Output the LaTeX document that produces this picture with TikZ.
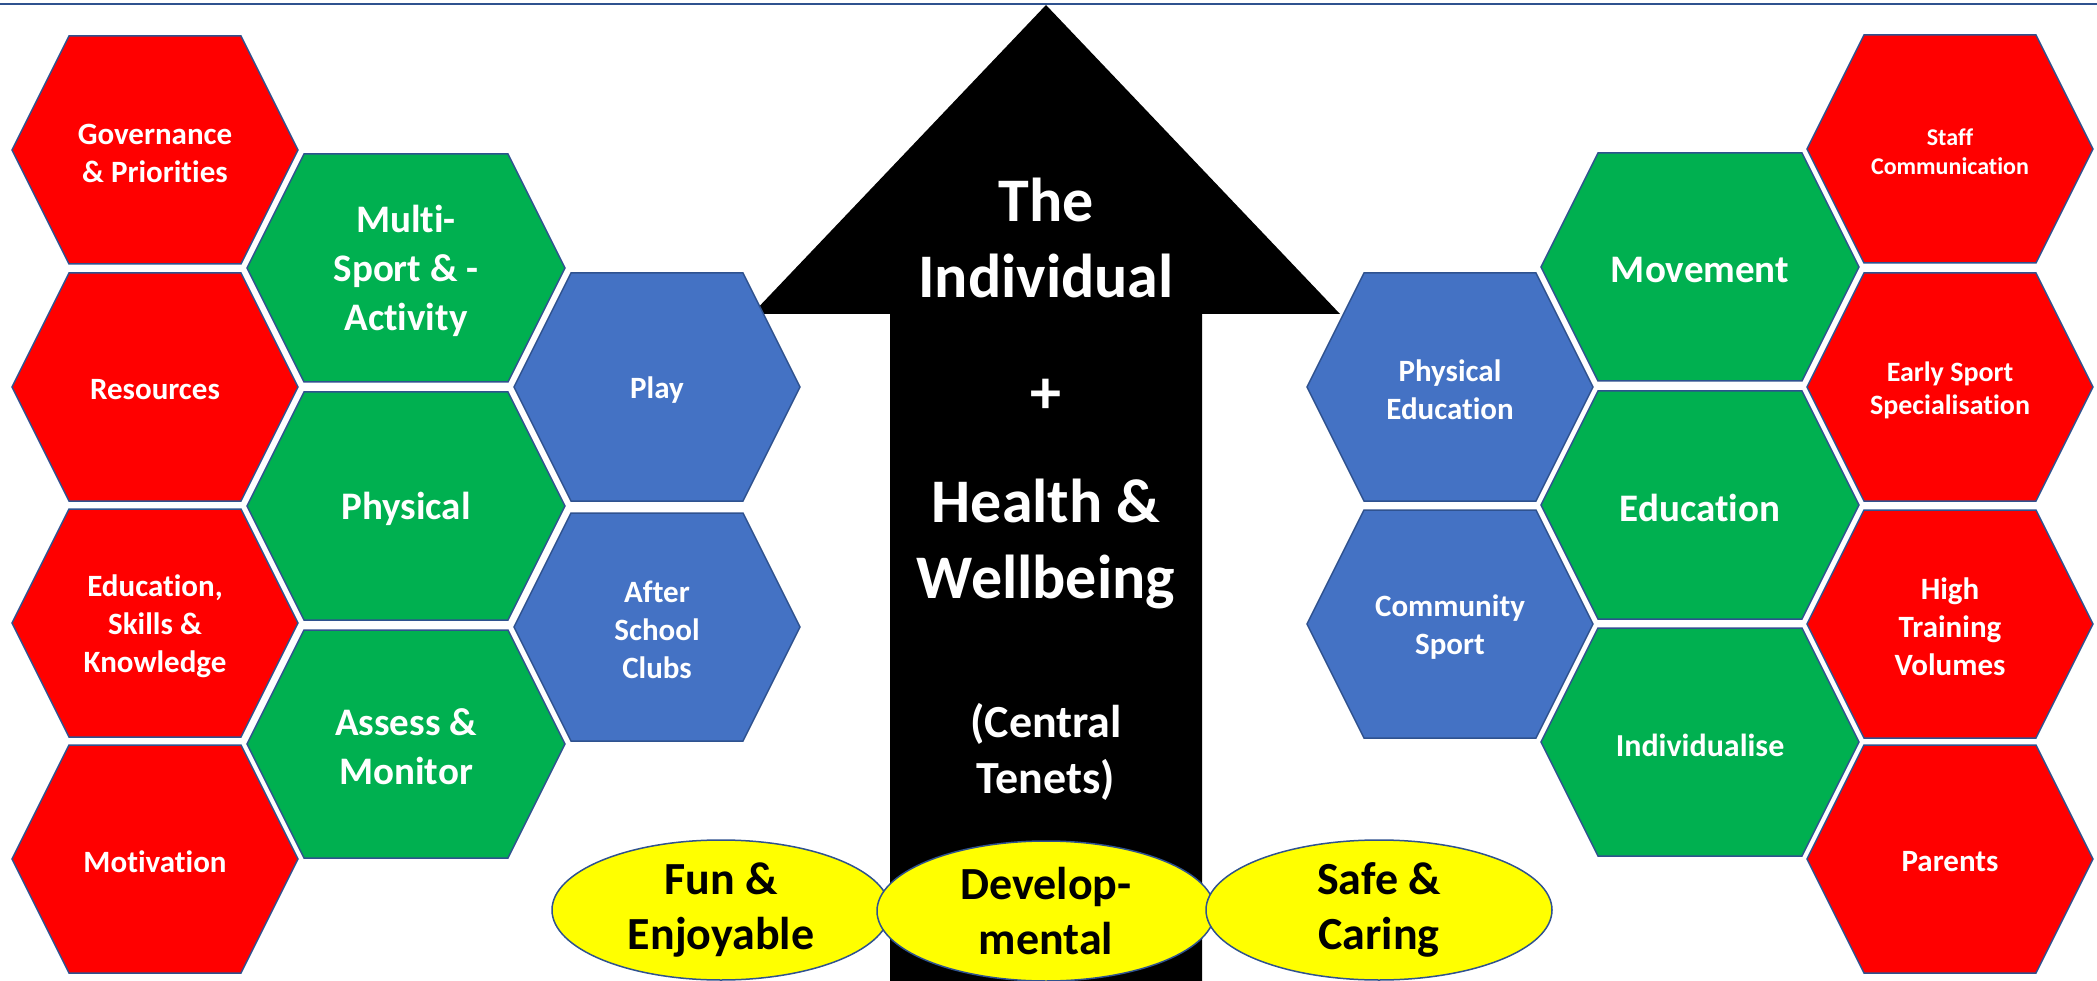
\documentclass[tikz,border=0pt]{standalone}
\usepackage{fontspec}
\setmainfont[Ligatures=NoCommon]{Carlito}
\usetikzlibrary{shapes.geometric}

\definecolor{hexred}{HTML}{FF0000}
\definecolor{hexgreen}{HTML}{00B050}
\definecolor{hexblue}{HTML}{4472C4}
\definecolor{hexline}{HTML}{2F528F}
\definecolor{pillfill}{HTML}{FFFF00}

% hexagon cell: name, x, y, half width, hex style, text style, text
\newcommand{\hexcell}[7]{%
  \draw[#5] ({#2-#4},#3) -- ++(57,-114) -- ++({2*#4-114},0) -- ++(57,114)
    -- ++(-57,114) -- ++({114-2*#4},0) -- cycle;
  \node[#6] (#1) at (#2,#3) {#7};
}

\begin{document}
\begin{tikzpicture}[x=1pt, y=-1pt,
    redhex/.style={fill=hexred, draw=hexline, line width=1.5pt},
    greenhex/.style={fill=hexgreen, draw=hexline, line width=1.5pt},
    bluehex/.style={fill=hexblue, draw=hexline, line width=1.5pt},
    cell/.style={text=white, align=center, inner sep=0pt, yshift=-3pt, font=\bfseries\fontsize{31}{38}\selectfont},
    bigcell/.style={cell, font=\bfseries\fontsize{39}{49}\selectfont},
    centretext/.style={text=white, inner sep=0pt, anchor=base, font=\bfseries\fontsize{62}{75}\selectfont},
    pill/.style={ellipse, fill=pillfill, draw=hexline, line width=1.5pt, inner sep=0pt,
      minimum width=338, minimum height=140, align=center, font=\bfseries\fontsize{46}{55}\selectfont}]
    \useasboundingbox (0,0) rectangle (2097,981);

    % central arrow
    \fill[black] (1046,5) -- (752,314) -- (890,314) -- (890,981) -- (1202,981)
      -- (1202,314) -- (1340,314) -- cycle;

    % left side
    \hexcell{gov}{155}{150}{143}{redhex}{cell}{Governance\\\& Priorities}
    \hexcell{res}{155}{387}{143}{redhex}{cell}{Resources}
    \hexcell{edu}{155}{623}{143}{redhex}{cell}{Education,\\Skills \&\\Knowledge}
    \hexcell{mot}{155}{859}{143}{redhex}{cell}{Motivation}
    \hexcell{multi}{406}{268}{159}{greenhex}{bigcell}{Multi-\\Sport \& -\\Activity}
    \hexcell{phys}{406}{506}{159}{greenhex}{bigcell}{Physical}
    \hexcell{assess}{406}{744}{159}{greenhex}{bigcell}{Assess \&\\Monitor}
    \hexcell{play}{657}{387}{143}{bluehex}{cell}{Play}
    \hexcell{after}{657}{627}{143}{bluehex}{cell}{After\\School\\Clubs}

    % right side
    \hexcell{pe}{1450}{387}{143}{bluehex}{cell}{Physical\\Education}
    \hexcell{comm}{1450}{624}{143}{bluehex}{cell}{Community\\Sport}
    \hexcell{move}{1700}{267}{159}{greenhex}{bigcell}{Movement}
    \hexcell{educ}{1700}{505}{159}{greenhex}{bigcell}{Education}
    \hexcell{indivise}{1700}{742}{159}{greenhex}{cell, font=\bfseries\fontsize{32}{38}\selectfont}{Individualise}
    \hexcell{staff}{1950}{149}{143}{redhex}{cell, font=\bfseries\fontsize{24}{29}\selectfont}{Staff\\Communication}
    \hexcell{early}{1950}{387}{143}{redhex}{cell, font=\bfseries\fontsize{28}{33}\selectfont}{Early Sport\\Specialisation}
    \hexcell{high}{1950}{624}{143}{redhex}{cell}{High\\Training\\Volumes}
    \hexcell{parents}{1950}{859}{143}{redhex}{cell}{Parents}

    % text in the arrow
    \node[centretext] (the) at (1046,222) {The};
    \node[centretext] (indiv) at (1046,298) {Individual};
    \node[centretext, anchor=center] (plus) at (1046,396) {+};
    \node[centretext] (health) at (1046,522) {Health \&};
    \node[centretext] (well) at (1046,598) {Wellbeing};
    \node[centretext, font=\bfseries\fontsize{46}{55}\selectfont] (central) at (1046,737) {(Central};
    \node[centretext, font=\bfseries\fontsize{46}{55}\selectfont] (tenets) at (1046,793) {Tenets)};

    % tenets
    \node[pill] (fun) at (721,910) {Fun \&\\Enjoyable};
    \node[pill] (dev) at (1046,911) {Develop-\\mental};
    \node[pill, minimum width=346] (safe) at (1379,910) {Safe \&\\Caring};

    \draw[hexline, line width=2.5pt] (0,4) -- (2097,4);
\end{tikzpicture}
\end{document}
